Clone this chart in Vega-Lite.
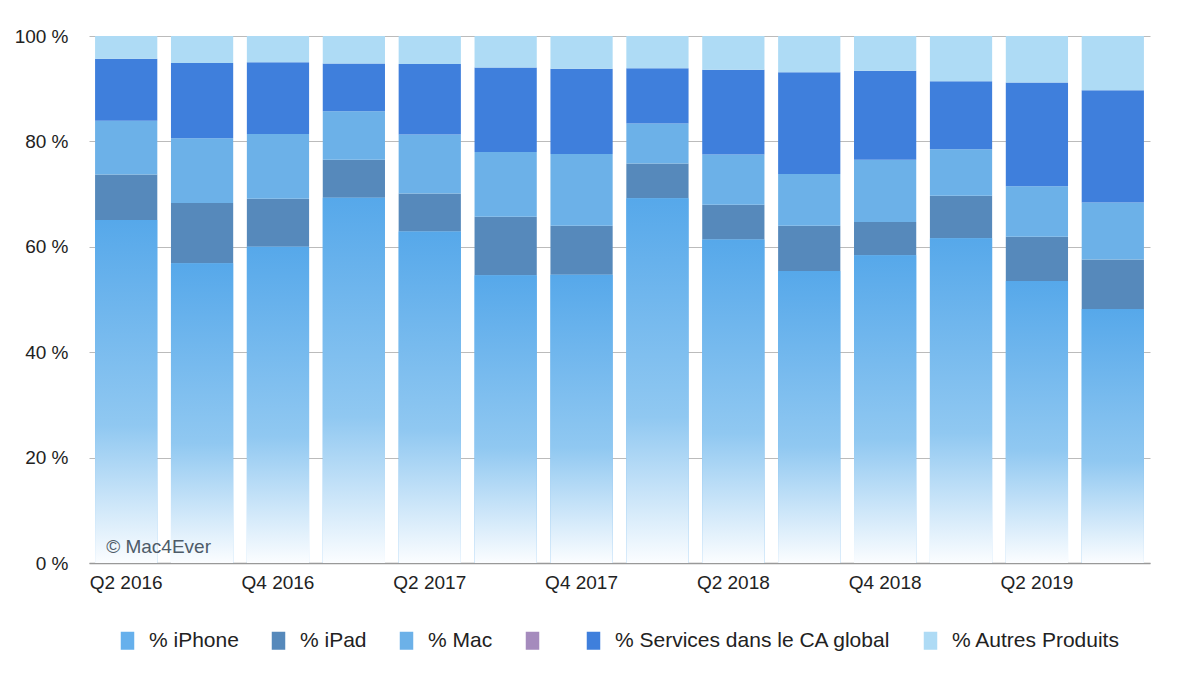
{
  "$schema": "https://vega.github.io/schema/vega-lite/v6.json",
  "width": 1061,
  "height": 527,
  "autosize": {"type": "none"},
  "padding": {"left": 89, "top": 36, "right": 50, "bottom": 111},
  "background": "white",
  "config": {
    "view": {"stroke": null},
    "font": "Liberation Sans",
    "axis": {"labelFont": "Liberation Sans", "labelColor": "#222222", "labelFontSize": 19}
  },
  "data": {
    "values": [
      {"q": "Q2 2016", "s": "% iPhone", "v": 65.1}, {"q": "Q2 2016", "s": "% iPad", "v": 8.6}, {"q": "Q2 2016", "s": "% Mac", "v": 10.2}, {"q": "Q2 2016", "s": "% Services dans le CA global", "v": 11.8}, {"q": "Q2 2016", "s": "% Autres Produits", "v": 4.3},
      {"q": "Q3 2016", "s": "% iPhone", "v": 56.9}, {"q": "Q3 2016", "s": "% iPad", "v": 11.4}, {"q": "Q3 2016", "s": "% Mac", "v": 12.3}, {"q": "Q3 2016", "s": "% Services dans le CA global", "v": 14.3}, {"q": "Q3 2016", "s": "% Autres Produits", "v": 5.1},
      {"q": "Q4 2016", "s": "% iPhone", "v": 60.0}, {"q": "Q4 2016", "s": "% iPad", "v": 9.1}, {"q": "Q4 2016", "s": "% Mac", "v": 12.3}, {"q": "Q4 2016", "s": "% Services dans le CA global", "v": 13.6}, {"q": "Q4 2016", "s": "% Autres Produits", "v": 5.0},
      {"q": "Q1 2017", "s": "% iPhone", "v": 69.3}, {"q": "Q1 2017", "s": "% iPad", "v": 7.2}, {"q": "Q1 2017", "s": "% Mac", "v": 9.2}, {"q": "Q1 2017", "s": "% Services dans le CA global", "v": 9.1}, {"q": "Q1 2017", "s": "% Autres Produits", "v": 5.2},
      {"q": "Q2 2017", "s": "% iPhone", "v": 62.9}, {"q": "Q2 2017", "s": "% iPad", "v": 7.2}, {"q": "Q2 2017", "s": "% Mac", "v": 11.2}, {"q": "Q2 2017", "s": "% Services dans le CA global", "v": 13.4}, {"q": "Q2 2017", "s": "% Autres Produits", "v": 5.3},
      {"q": "Q3 2017", "s": "% iPhone", "v": 54.6}, {"q": "Q3 2017", "s": "% iPad", "v": 11.1}, {"q": "Q3 2017", "s": "% Mac", "v": 12.3}, {"q": "Q3 2017", "s": "% Services dans le CA global", "v": 16.0}, {"q": "Q3 2017", "s": "% Autres Produits", "v": 6.0},
      {"q": "Q4 2017", "s": "% iPhone", "v": 54.7}, {"q": "Q4 2017", "s": "% iPad", "v": 9.3}, {"q": "Q4 2017", "s": "% Mac", "v": 13.6}, {"q": "Q4 2017", "s": "% Services dans le CA global", "v": 16.2}, {"q": "Q4 2017", "s": "% Autres Produits", "v": 6.2},
      {"q": "Q1 2018", "s": "% iPhone", "v": 69.2}, {"q": "Q1 2018", "s": "% iPad", "v": 6.6}, {"q": "Q1 2018", "s": "% Mac", "v": 7.6}, {"q": "Q1 2018", "s": "% Services dans le CA global", "v": 10.5}, {"q": "Q1 2018", "s": "% Autres Produits", "v": 6.1},
      {"q": "Q2 2018", "s": "% iPhone", "v": 61.4}, {"q": "Q2 2018", "s": "% iPad", "v": 6.6}, {"q": "Q2 2018", "s": "% Mac", "v": 9.5}, {"q": "Q2 2018", "s": "% Services dans le CA global", "v": 16.1}, {"q": "Q2 2018", "s": "% Autres Produits", "v": 6.4},
      {"q": "Q3 2018", "s": "% iPhone", "v": 55.4}, {"q": "Q3 2018", "s": "% iPad", "v": 8.6}, {"q": "Q3 2018", "s": "% Mac", "v": 9.8}, {"q": "Q3 2018", "s": "% Services dans le CA global", "v": 19.3}, {"q": "Q3 2018", "s": "% Autres Produits", "v": 6.9},
      {"q": "Q4 2018", "s": "% iPhone", "v": 58.4}, {"q": "Q4 2018", "s": "% iPad", "v": 6.3}, {"q": "Q4 2018", "s": "% Mac", "v": 11.8}, {"q": "Q4 2018", "s": "% Services dans le CA global", "v": 16.9}, {"q": "Q4 2018", "s": "% Autres Produits", "v": 6.6},
      {"q": "Q1 2019", "s": "% iPhone", "v": 61.6}, {"q": "Q1 2019", "s": "% iPad", "v": 8.1}, {"q": "Q1 2019", "s": "% Mac", "v": 8.8}, {"q": "Q1 2019", "s": "% Services dans le CA global", "v": 12.9}, {"q": "Q1 2019", "s": "% Autres Produits", "v": 8.6},
      {"q": "Q2 2019", "s": "% iPhone", "v": 53.5}, {"q": "Q2 2019", "s": "% iPad", "v": 8.4}, {"q": "Q2 2019", "s": "% Mac", "v": 9.6}, {"q": "Q2 2019", "s": "% Services dans le CA global", "v": 19.7}, {"q": "Q2 2019", "s": "% Autres Produits", "v": 8.8},
      {"q": "Q3 2019", "s": "% iPhone", "v": 48.2}, {"q": "Q3 2019", "s": "% iPad", "v": 9.4}, {"q": "Q3 2019", "s": "% Mac", "v": 10.8}, {"q": "Q3 2019", "s": "% Services dans le CA global", "v": 21.3}, {"q": "Q3 2019", "s": "% Autres Produits", "v": 10.3}
    ]
  },
  "encoding": {
    "x": {
      "field": "q", "type": "nominal", "sort": null, "title": null,
      "scale": {"paddingInner": 0.18, "paddingOuter": 0.08},
      "axis": {
        "values": ["Q2 2016", "Q4 2016", "Q2 2017", "Q4 2017", "Q2 2018", "Q4 2018", "Q2 2019"],
        "labelAngle": 0, "ticks": false, "domainColor": "#999999", "domainWidth": 1.5,
        "labelPadding": 10, "grid": false
      }
    }
  },
  "layer": [
    {
      "transform": [
        {"calculate": "indexof(['% iPhone', '% iPad', '% Mac', '% Services dans le CA global', '% Autres Produits'], datum.s)", "as": "o"}
      ],
      "mark": {"type": "bar", "stroke": null},
      "encoding": {
        "y": {
          "field": "v", "type": "quantitative", "stack": "zero", "title": null,
          "scale": {"domain": [0, 100], "nice": false},
          "axis": {
            "values": [0, 20, 40, 60, 80, 100], "labelExpr": "datum.value + ' %'",
            "domain": false, "ticks": false, "labelPadding": 21,
            "gridColor": "#bbbbbb", "gridWidth": 1
          }
        },
        "color": {
          "field": "s", "type": "nominal",
          "sort": ["% iPhone", "% iPad", "% Mac", " ", "% Services dans le CA global", "% Autres Produits"],
          "scale": {
            "domain": ["% iPhone", "% iPad", "% Mac", " ", "% Services dans le CA global", "% Autres Produits"],
            "range": ["#66b0ec", "#5689bb", "#6cb1e8", "#a58bbd", "#3f7fdc", "#aedbf5"]
          },
          "legend": {
            "title": null, "orient": "none", "legendX": 28, "legendY": 594,
            "direction": "horizontal", "columns": 6,
            "symbolType": "M-0.75,-1H0.75V1H-0.75Z", "symbolSize": 324,
            "symbolStrokeWidth": 0, "symbolOpacity": 1,
            "labelFont": "Liberation Sans", "labelFontSize": 21, "labelColor": "#222222",
            "labelOffset": 11, "columnPadding": 29, "labelLimit": 400
          }
        },
        "order": {"field": "o", "type": "quantitative"}
      }
    },
    {
      "transform": [{"filter": "datum.s === '% iPhone'"}],
      "mark": {
        "type": "bar", "stroke": null,
        "color": {
          "gradient": "linear", "x1": 0, "y1": 0, "x2": 0, "y2": 1,
          "stops": [
            {"offset": 0, "color": "#56a8ea"},
            {"offset": 0.6, "color": "#90c8f1"},
            {"offset": 1, "color": "#fbfdff"}
          ]
        }
      },
      "encoding": {
        "y": {"field": "v", "type": "quantitative", "stack": null}
      }
    },
    {
      "data": {"values": [{"q": "Q2 2016", "note": "© Mac4Ever", "v": 3.0}]},
      "mark": {"type": "text", "align": "left", "baseline": "middle", "dx": -20, "font": "Liberation Sans", "fontSize": 19, "fill": "#4d5b68"},
      "encoding": {
        "y": {"field": "v", "type": "quantitative"},
        "text": {"field": "note"}
      }
    }
  ]
}
